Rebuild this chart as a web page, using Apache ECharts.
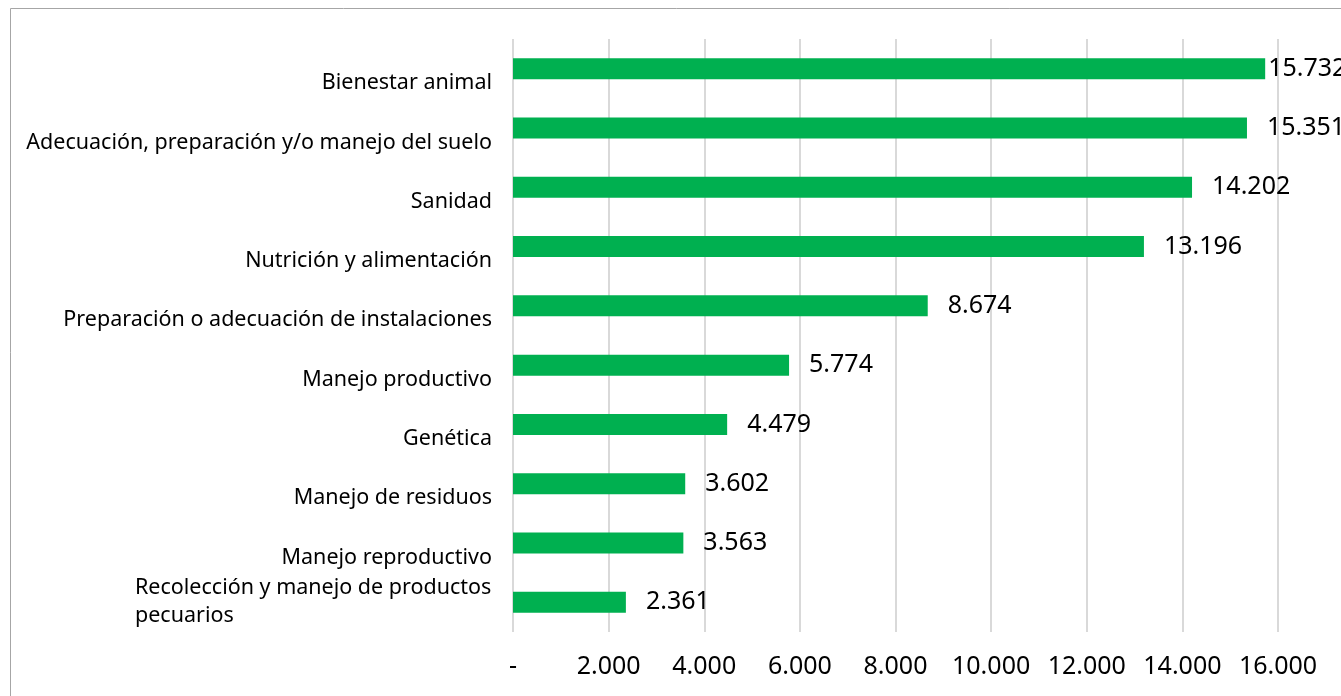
<!DOCTYPE html>
<html>
<head>
<meta charset="utf-8">
<script src="https://cdn.jsdelivr.net/npm/echarts@6/dist/echarts.min.js"></script>
<style>
html,body{margin:0;padding:0;background:#fff;}
#c{width:1341px;height:696px;}
</style>
</head>
<body>
<div id="c"></div>
<script>
const categories = [
  "Bienestar animal",
  "Adecuación, preparación y/o manejo del suelo",
  "Sanidad",
  "Nutrición y alimentación",
  "Preparación o adecuación de instalaciones",
  "Manejo productivo",
  "Genética",
  "Manejo de residuos",
  "Manejo reproductivo",
  "Recolección y manejo de productos\npecuarios"
];
const values = [15732, 15351, 14202, 13196, 8674, 5774, 4479, 3602, 3563, 2361];
const tickValues = [0, 2000, 4000, 6000, 8000, 10000, 12000, 14000, 16000];

const FONT = "'Noto Sans', 'Open Sans', sans-serif";
const CAT_SIZE = 21.5;

function fmt(v) {
  if (v === 0) return "-";
  return String(Math.round(v)).replace(/\B(?=(\d{3})+(?!\d))/g, ".");
}

const cv = document.createElement("canvas").getContext("2d");
cv.font = CAT_SIZE + "px " + FONT;
let multiW = 0;
categories.forEach(c => {
  const lines = c.split("\n");
  if (lines.length > 1) {
    lines.forEach(l => { multiW = Math.max(multiW, Math.ceil(cv.measureText(l).width)); });
  }
});
function catLabel(v) {
  const lines = v.split("\n");
  if (lines.length === 1) return "\n" + v;
  return lines.map(l => "{m|" + l + "}").join("\n");
}

const seriesData = values.map((v, i) => {
  const d = { value: v };
  if (i === 0) d.label = { distance: 3 };
  return d;
});

const chart = echarts.init(document.getElementById("c"), null, { renderer: "canvas" });
chart.setOption({
  animation: false,
  backgroundColor: "#ffffff",
  grid: { left: 513, right: 63, top: 39, bottom: 64, containLabel: false },
  graphic: [{
    type: "rect",
    shape: { x: 10.5, y: 8.5, width: 2000, height: 2000 },
    style: { fill: "none", stroke: "#a6a6a6", lineWidth: 1 },
    silent: true
  }],
  xAxis: {
    type: "value",
    min: 0, max: 16000, interval: 2000,
    axisLine: { show: false },
    axisTick: { show: false },
    splitLine: { show: true, lineStyle: { color: "#d9d9d9", width: 2 } },
    axisLabel: {
      formatter: fmt,
      color: "#000",
      fontFamily: FONT,
      fontSize: 25,
      margin: 22
    }
  },
  yAxis: {
    type: "category",
    inverse: true,
    data: categories,
    axisLine: { show: false },
    axisTick: { show: false },
    axisLabel: {
      formatter: catLabel,
      color: "#000",
      fontFamily: FONT,
      fontSize: CAT_SIZE,
      lineHeight: 29,
      margin: 21,
      rich: {
        m: { width: multiW, align: "left", fontFamily: FONT, fontSize: CAT_SIZE, lineHeight: 28, color: "#000" }
      }
    }
  },
  series: [{
    type: "bar",
    data: seriesData,
    barWidth: 21,
    itemStyle: { color: "#00b050" },
    label: {
      show: true,
      position: "right",
      distance: 20,
      formatter: p => fmt(p.value),
      color: "#000",
      fontFamily: FONT,
      fontSize: 25,
      padding: [4, 0, 0, 0]
    }
  }]
});
</script>
</body>
</html>
